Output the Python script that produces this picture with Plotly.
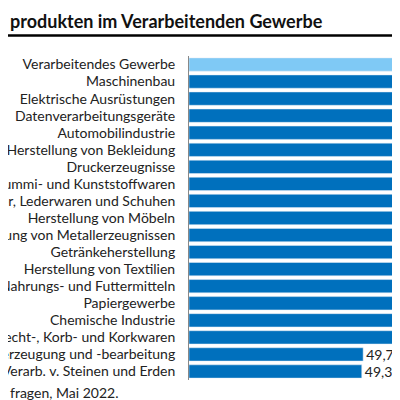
import plotly.graph_objects as go

branchen = [
    "Verarbeitendes Gewerbe", "Maschinenbau", "Elektrische Ausrüstungen",
    "Datenverarbeitungsgeräte", "Automobilindustrie", "Herstellung von Bekleidung",
    "Druckerzeugnisse", "Herstellung von Gummi- und Kunststoffwaren",
    "Herstellung von Leder, Lederwaren und Schuhen", "Herstellung von Möbeln",
    "Herstellung von Metallerzeugnissen", "Getränkeherstellung",
    "Herstellung von Textilien", "Herstellung von Nahrungs- und Futtermitteln",
    "Papiergewerbe", "Chemische Industrie",
    "Holz-, Flecht-, Korb- und Korkwaren", "Metallerzeugung und -bearbeitung",
    "Glas, Keramik, Verarb. v. Steinen und Erden",
]
anteil = [77.2, 89.1, 86.5, 85.0, 84.3, 80.6, 78.7, 77.9, 75.0, 74.3,
          72.9, 72.0, 70.7, 68.5, 63.6, 58.9, 58.6, 49.7, 49.3]
farben = ["#7fc9f5"] + ["#0070bd"] * (len(anteil) - 1)

fig = go.Figure(go.Bar(
    y=branchen, x=anteil, orientation="h", marker_color=farben, width=0.78,
    text=[f"{v:.1f}".replace(".", ",") for v in anteil],
    textposition="outside", cliponaxis=False, constraintext="none",
    textfont=dict(size=14, color="#222"),
))
fig.update_layout(
    width=400, height=400, margin=dict(l=181, r=0, t=48, b=28),
    plot_bgcolor="white", paper_bgcolor="white", showlegend=False,
    font=dict(family="Lato, Noto Sans", size=14, color="#222"),
    xaxis=dict(range=[0, 62.5], visible=False),
    yaxis=dict(autorange="reversed", showline=True, linecolor="#888",
               linewidth=1, ticks="", ticklabelstandoff=10, automargin=False),
    bargap=0.22,
    annotations=[
        dict(text="<b>produkten im Verarbeitenden Gewerbe</b>", x=0, y=1,
             xref="paper", yref="paper", xanchor="left", yanchor="top",
             xshift=-181, yshift=48, showarrow=False, font=dict(size=18, color="#111")),
        dict(text="fragen, Mai 2022.", x=0, y=0, xref="paper", yref="paper",
             xanchor="left", yanchor="top", xshift=-181, yshift=-2,
             showarrow=False, font=dict(size=14)),
        dict(text="A", x=1, y=1, xref="paper", yref="paper", xanchor="left",
             yanchor="bottom", xshift=-9, yshift=2, showarrow=False),
    ],
    shapes=[dict(type="line", xref="paper", yref="paper", x0=-1, x1=1.1,
                 y0=1.063, y1=1.063, line=dict(color="black", width=2.5))],
)
fig.write_html("out.html")
